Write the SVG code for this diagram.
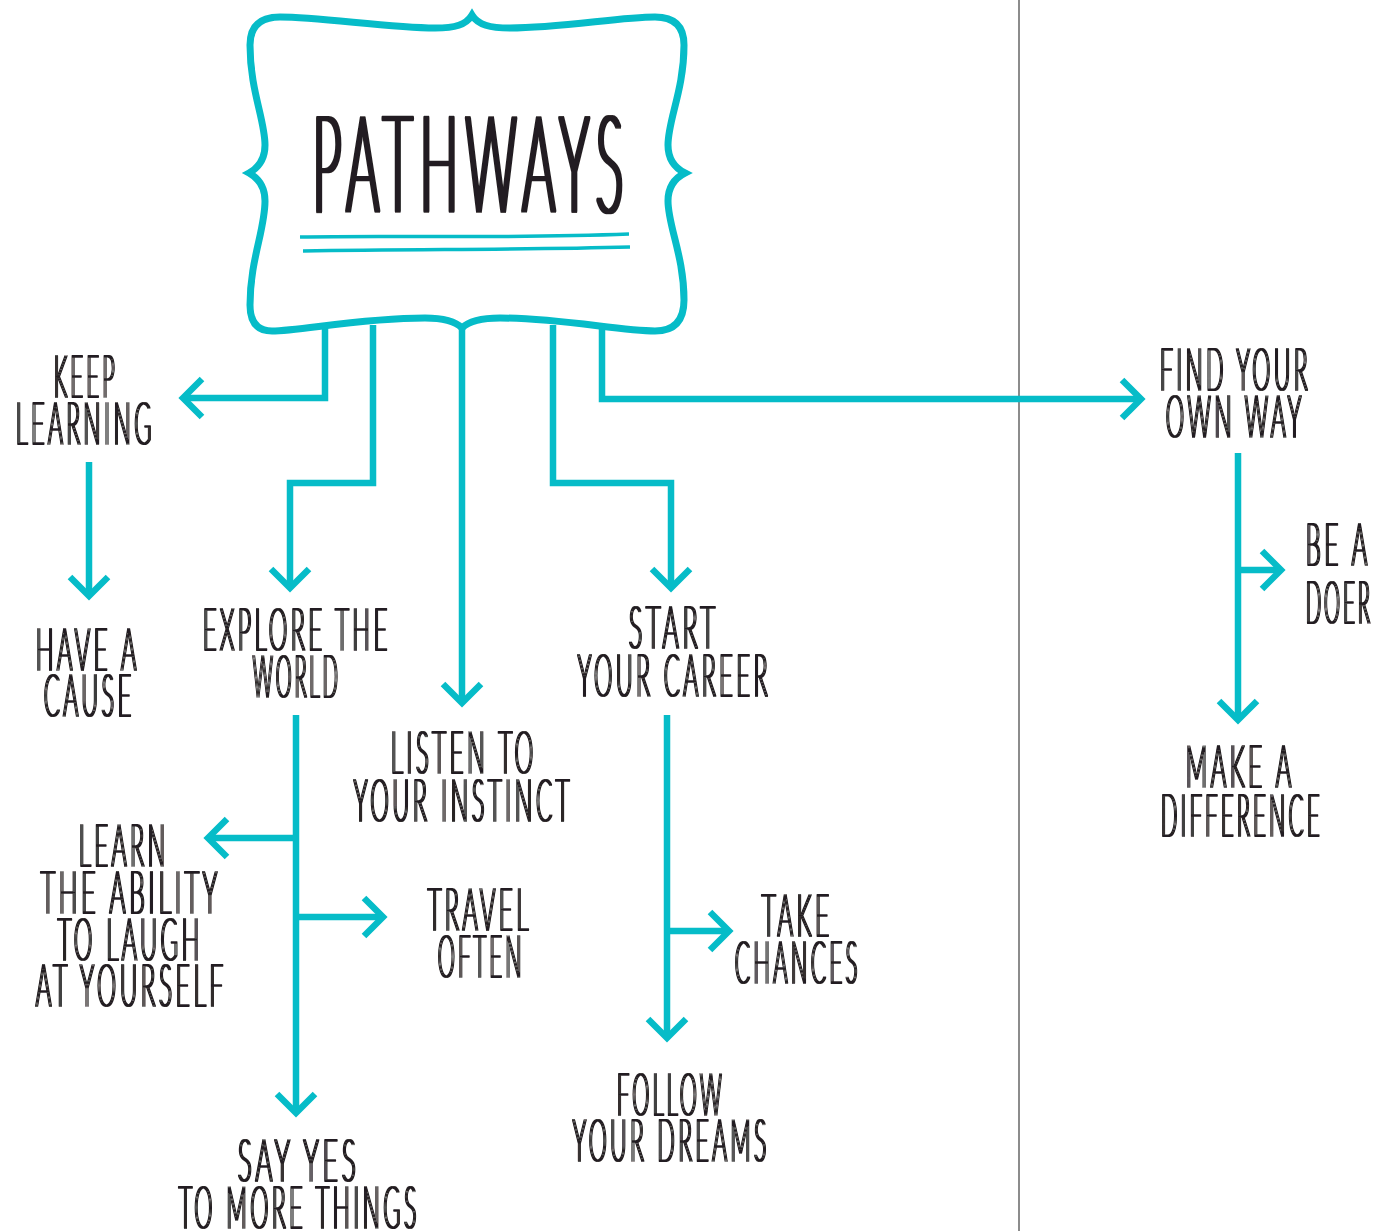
<svg xmlns="http://www.w3.org/2000/svg" width="1374" height="1231" viewBox="0 0 1374 1231">
<style>
.c{fill:none;stroke:#06BCC8;stroke-width:6.5;stroke-linejoin:miter;stroke-linecap:butt}
.t{font-family:Lato,"Open Sans","Liberation Sans",sans-serif;font-weight:100;font-size:58px;fill:#231F20;stroke:#231F20;stroke-width:2;stroke-linejoin:round;letter-spacing:10px}
.title{font-family:Lato,"Open Sans","Liberation Sans",sans-serif;font-weight:100;font-size:133px;fill:#231F20;stroke:#231F20;stroke-width:4;stroke-linejoin:round;letter-spacing:22px}
.lb{filter:url(#thick)}
</style>
<defs>
<filter id="thick" x="-5%" y="-5%" width="110%" height="110%"><feMorphology operator="dilate" radius="0.9 0"/></filter>
<filter id="thickT" x="-5%" y="-5%" width="110%" height="110%"><feMorphology operator="dilate" radius="1.6 0"/></filter>
<marker id="ah" markerUnits="userSpaceOnUse" orient="auto" refX="0" refY="0" markerWidth="40" markerHeight="40" overflow="visible">
<path d="M-19,-19 L0,0 L-19,19" fill="none" stroke="#06BCC8" stroke-width="6.5"/>
</marker>
</defs>
<rect width="1374" height="1231" fill="#fff"/>
<line x1="1019" y1="0" x2="1019" y2="1231" stroke="#8C8C8C" stroke-width="2"/>

<g id="connectors">
<path class="c" d="M325,325 V398 H183" marker-end="url(#ah)"/>
<path class="c" d="M373,325 V483 H290 V588" marker-end="url(#ah)"/>
<path class="c" d="M462,325 V703" marker-end="url(#ah)"/>
<path class="c" d="M553,325 V483 H671 V588" marker-end="url(#ah)"/>
<path class="c" d="M602,325 V399 H1141" marker-end="url(#ah)"/>
<path class="c" d="M89,462 V596" marker-end="url(#ah)"/>
<path class="c" d="M296,715 V1113" marker-end="url(#ah)"/>
<path class="c" d="M296,838 H208" marker-end="url(#ah)"/>
<path class="c" d="M296,917 H383" marker-end="url(#ah)"/>
<path class="c" d="M667,715 V1038" marker-end="url(#ah)"/>
<path class="c" d="M667,931 H729" marker-end="url(#ah)"/>
<path class="c" d="M1238,453 V720" marker-end="url(#ah)"/>
<path class="c" d="M1238,570 H1281" marker-end="url(#ah)"/>
</g>

<g id="pathways">
<path d="M472,15 C466,25 455,28 435,28 C390,28 320,17 280,17 Q250,17 250,45 C250,90 265,120 265,145 C265,160 258,168 249,173 C258,178 265,186 265,201 C265,230 250,260 250,305 Q250,331 272,331 C300,331 360,318 425,318 C446,318 456,322 462,328 C468,322 478,318 500,318 C560,318 620,331 655,331 Q684,331 684,300 C684,256 668,226 668,201 C668,186 675,178 685,173 C675,168 668,160 668,145 C668,120 684,90 684,45 Q684,17 655,17 C620,17 560,28 510,28 C490,28 478,25 472,15 Z" fill="#fff" stroke="#06BCC8" stroke-width="7"/>
<text class="title" x="313" y="211" textLength="318" lengthAdjust="spacingAndGlyphs" filter="url(#thickT)">PATHWAYS</text>
<path d="M300,237 C400,235 500,239 629,234" fill="none" stroke="#06BCC8" stroke-width="3.5"/>
<path d="M303,251 C420,249 520,250 630,247" fill="none" stroke="#06BCC8" stroke-width="3.5"/>
</g>

<g id="keep-learning" class="lb">
<text class="t" x="54" y="397" textLength="64" lengthAdjust="spacingAndGlyphs">KEEP</text>
<text class="t" x="16" y="444" textLength="139" lengthAdjust="spacingAndGlyphs">LEARNING</text>
</g>
<g id="have-a-cause" class="lb">
<text class="t" x="36" y="670" textLength="104" lengthAdjust="spacingAndGlyphs">HAVE A</text>
<text class="t" x="44" y="716" textLength="91" lengthAdjust="spacingAndGlyphs">CAUSE</text>
</g>
<g id="explore-the-world" class="lb">
<text class="t" x="203" y="650" textLength="188" lengthAdjust="spacingAndGlyphs">EXPLORE THE</text>
<text class="t" x="253" y="697" textLength="88" lengthAdjust="spacingAndGlyphs">WORLD</text>
</g>
<g id="listen-to-your-instinct" class="lb">
<text class="t" x="391" y="773" textLength="146" lengthAdjust="spacingAndGlyphs">LISTEN TO</text>
<text class="t" x="354" y="821" textLength="219" lengthAdjust="spacingAndGlyphs">YOUR INSTINCT</text>
</g>
<g id="start-your-career" class="lb">
<text class="t" x="629" y="648" textLength="90" lengthAdjust="spacingAndGlyphs">START</text>
<text class="t" x="578" y="696" textLength="193" lengthAdjust="spacingAndGlyphs">YOUR CAREER</text>
</g>
<g id="find-your-own-way" class="lb">
<text class="t" x="1160" y="390" textLength="151" lengthAdjust="spacingAndGlyphs">FIND YOUR</text>
<text class="t" x="1166" y="437" textLength="139" lengthAdjust="spacingAndGlyphs">OWN WAY</text>
</g>
<g id="be-a-doer" class="lb">
<text class="t" x="1306" y="565" textLength="65" lengthAdjust="spacingAndGlyphs">BE A</text>
<text class="t" x="1306" y="623" textLength="67" lengthAdjust="spacingAndGlyphs">DOER</text>
</g>
<g id="make-a-difference" class="lb">
<text class="t" x="1186" y="787" textLength="109" lengthAdjust="spacingAndGlyphs">MAKE A</text>
<text class="t" x="1161" y="836" textLength="162" lengthAdjust="spacingAndGlyphs">DIFFERENCE</text>
</g>
<g id="learn-the-ability" class="lb">
<text class="t" x="79" y="866" textLength="90" lengthAdjust="spacingAndGlyphs">LEARN</text>
<text class="t" x="41" y="913" textLength="180" lengthAdjust="spacingAndGlyphs">THE ABILITY</text>
<text class="t" x="58" y="960" textLength="145" lengthAdjust="spacingAndGlyphs">TO LAUGH</text>
<text class="t" x="36" y="1006" textLength="191" lengthAdjust="spacingAndGlyphs">AT YOURSELF</text>
</g>
<g id="travel-often" class="lb">
<text class="t" x="428" y="930" textLength="104" lengthAdjust="spacingAndGlyphs">TRAVEL</text>
<text class="t" x="438" y="977" textLength="87" lengthAdjust="spacingAndGlyphs">OFTEN</text>
</g>
<g id="take-chances" class="lb">
<text class="t" x="762" y="936" textLength="71" lengthAdjust="spacingAndGlyphs">TAKE</text>
<text class="t" x="735" y="983" textLength="126" lengthAdjust="spacingAndGlyphs">CHANCES</text>
</g>
<g id="follow-your-dreams" class="lb">
<text class="t" x="617" y="1115" textLength="108" lengthAdjust="spacingAndGlyphs">FOLLOW</text>
<text class="t" x="573" y="1161" textLength="197" lengthAdjust="spacingAndGlyphs">YOUR DREAMS</text>
</g>
<g id="say-yes" class="lb">
<text class="t" x="238" y="1181" textLength="122" lengthAdjust="spacingAndGlyphs">SAY YES</text>
<text class="t" x="179" y="1228" textLength="241" lengthAdjust="spacingAndGlyphs">TO MORE THINGS</text>
</g>
</svg>
